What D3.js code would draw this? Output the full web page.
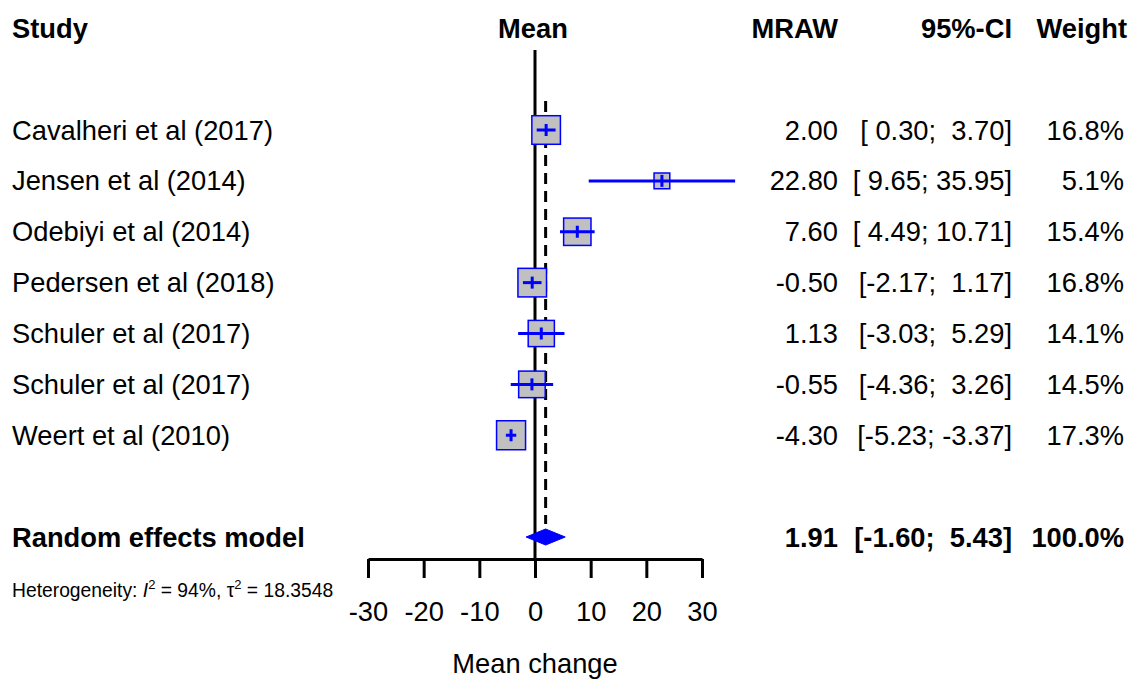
<!DOCTYPE html>
<html>
<head>
<meta charset="utf-8">
<script src="https://cdn.jsdelivr.net/npm/d3@7"></script>
<style>
  body { margin: 0; background: #fff; }
  svg { display: block; }
  text { font-family: "Liberation Sans", Arial, sans-serif; fill: #000; }
</style>
</head>
<body>
<div id="forest"></div>
<script>
// study data
var studies = ["Cavalheri et al (2017)", "Jensen et al (2014)", "Odebiyi et al (2014)",
    "Pedersen et al (2018)", "Schuler et al (2017)", "Schuler et al (2017)", "Weert et al (2010)"];
var means = [2.00, 22.80, 7.60, -0.50, 1.13, -0.55, -4.30];
var lower = [0.30, 9.65, 4.49, -2.17, -3.03, -4.36, -5.23];
var upper = [3.70, 35.95, 10.71, 1.17, 5.29, 3.26, -3.37];
var weights = [16.8, 5.1, 15.4, 16.8, 14.1, 14.5, 17.3];

// pooled estimate
var pooled = {mean: 1.91, lower: -1.60, upper: 5.43, weight: 100.0};
var heterogeneity = {i2: "94%", tau2: "18.3548"};

var xTicks = [-30, -20, -10, 0, 10, 20, 30];

var W = 1134, H = 679;

var svg = d3.select("#forest")
    .append("svg")
    .attr("width", W)
    .attr("height", H);

// plain hyphen for negatives, like R prints them
var loc = d3.formatLocale({decimal: ".", thousands: ",", grouping: [3], currency: ["", ""], minus: "-"});

// x scale for the effect
var x = d3.scaleLinear()
    .domain([-30, 30])
    .range([368, 702]);

// row positions: -2 header, 0..6 studies, 8 pooled
var y = d3.scaleLinear()
    .domain([0, 8])
    .range([130, 537]);

// square side ~ sqrt(weight)
var size = d3.scaleSqrt()
    .domain([0, d3.max(weights)])
    .range([0, 29]);

var fmt2 = loc.format(".2f");
var fmtW = function (w) { return loc.format(".1f")(w) + "%"; };
function pad(s, n) { while (s.length < n) s = " " + s; return s; }
function ciText(lo, up) {
    return "[" + pad(fmt2(lo), 5) + "; " + pad(fmt2(up), 5) + "]";
}

var FS = 27.3;

// header
var head = svg.append("g").style("font-weight", "bold").style("font-size", FS + "px");
head.append("text").attr("x", 12).attr("y", y(-2)).attr("dy", "0.35em").text("Study");
head.append("text").attr("x", x(0) - 2).attr("y", y(-2)).attr("dy", "0.35em")
    .attr("text-anchor", "middle").text("Mean");
head.append("text").attr("x", 838).attr("y", y(-2)).attr("dy", "0.35em")
    .attr("text-anchor", "end").text("MRAW");
head.append("text").attr("x", 1012).attr("y", y(-2)).attr("dy", "0.35em")
    .attr("text-anchor", "end").text("95%-CI");
head.append("text").attr("x", 1127).attr("y", y(-2)).attr("dy", "0.35em")
    .attr("text-anchor", "end").text("Weight");

// reference line at zero
svg.append("line")
    .attr("x1", x(0)).attr("x2", x(0))
    .attr("y1", 50).attr("y2", 559)
    .attr("stroke", "black")
    .attr("stroke-width", 3);

// dashed line at pooled estimate
svg.append("line")
    .attr("x1", x(pooled.mean)).attr("x2", x(pooled.mean))
    .attr("y1", 101).attr("y2", 524)
    .attr("stroke", "black")
    .attr("stroke-width", 3)
    .attr("stroke-dasharray", "11,7");

// study rows
var rows = svg.selectAll(".row")
    .data(studies)
    .enter()
    .append("g")
    .attr("class", "row");

rows.append("rect")
    .attr("x", function (d, i) { return x(means[i]) - size(weights[i]) / 2; })
    .attr("y", function (d, i) { return y(i) - size(weights[i]) / 2; })
    .attr("width", function (d, i) { return size(weights[i]); })
    .attr("height", function (d, i) { return size(weights[i]); })
    .attr("fill", "#c0c0c0")
    .attr("stroke", "blue")
    .attr("stroke-width", 1.5);

rows.append("line")
    .attr("x1", function (d, i) { return x(lower[i]); })
    .attr("x2", function (d, i) { return x(upper[i]); })
    .attr("y1", function (d, i) { return y(i); })
    .attr("y2", function (d, i) { return y(i); })
    .attr("stroke", "blue")
    .attr("stroke-width", 3);

rows.append("line")
    .attr("x1", function (d, i) { return x(means[i]); })
    .attr("x2", function (d, i) { return x(means[i]); })
    .attr("y1", function (d, i) { return y(i) - Math.min(6, size(weights[i]) / 2); })
    .attr("y2", function (d, i) { return y(i) + Math.min(6, size(weights[i]) / 2); })
    .attr("stroke", "blue")
    .attr("stroke-width", 3);

rows.append("text")
    .attr("x", 12)
    .attr("y", function (d, i) { return y(i); })
    .attr("dy", "0.35em")
    .style("font-size", FS + "px")
    .text(function (d) { return d; });

rows.append("text")
    .attr("x", 838)
    .attr("y", function (d, i) { return y(i); })
    .attr("dy", "0.35em")
    .attr("text-anchor", "end")
    .style("font-size", FS + "px")
    .text(function (d, i) { return fmt2(means[i]); });

rows.append("text")
    .attr("x", 1012)
    .attr("y", function (d, i) { return y(i); })
    .attr("dy", "0.35em")
    .attr("text-anchor", "end")
    .style("font-size", FS + "px")
    .style("white-space", "pre")
    .text(function (d, i) { return ciText(lower[i], upper[i]); });

rows.append("text")
    .attr("x", 1124)
    .attr("y", function (d, i) { return y(i); })
    .attr("dy", "0.35em")
    .attr("text-anchor", "end")
    .style("font-size", FS + "px")
    .text(function (d, i) { return fmtW(weights[i]); });

// pooled row
var yp = y(8);
svg.append("polygon")
    .attr("points", [
        [x(pooled.lower), yp], [x(pooled.mean), yp - 8],
        [x(pooled.upper), yp], [x(pooled.mean), yp + 8]
    ].join(" "))
    .attr("fill", "blue")
    .attr("stroke", "blue")
    .attr("stroke-width", 1);

var pg = svg.append("g").style("font-weight", "bold").style("font-size", FS + "px");
pg.append("text").attr("x", 12).attr("y", yp).attr("dy", "0.35em").text("Random effects model");
pg.append("text").attr("x", 838).attr("y", yp).attr("dy", "0.35em")
    .attr("text-anchor", "end").text(fmt2(pooled.mean));
pg.append("text").attr("x", 1012).attr("y", yp).attr("dy", "0.35em")
    .attr("text-anchor", "end").style("white-space", "pre")
    .text(ciText(pooled.lower, pooled.upper));
pg.append("text").attr("x", 1124).attr("y", yp).attr("dy", "0.35em")
    .attr("text-anchor", "end").text(fmtW(pooled.weight));

// heterogeneity note
var het = svg.append("text")
    .attr("x", 12)
    .attr("y", 597)
    .style("font-size", "19.3px");
het.append("tspan").text("Heterogeneity: ");
het.append("tspan").style("font-style", "italic").text("I");
het.append("tspan").attr("dy", -8).style("font-size", "13px").text("2");
het.append("tspan").attr("dy", 8).text(" = " + heterogeneity.i2 + ", \u03c4");
het.append("tspan").attr("dy", -8).style("font-size", "13px").text("2");
het.append("tspan").attr("dy", 8).text(" = " + heterogeneity.tau2);

// x axis
var xAxis = d3.axisBottom(x)
    .tickValues(xTicks)
    .tickFormat(loc.format("d"))
    .tickSize(19)
    .tickSizeOuter(0)
    .tickPadding(24);

var ax = svg.append("g")
    .attr("transform", "translate(0,559)")
    .call(xAxis);

ax.select(".domain").attr("stroke-width", 3);
ax.selectAll(".tick line").attr("stroke-width", 3);
ax.selectAll("text")
    .style("font-size", FS + "px")
    .style("font-family", "'Liberation Sans', Arial, sans-serif")
    .attr("fill", "#000");

svg.append("text")
    .attr("x", x(0))
    .attr("y", 673)
    .attr("text-anchor", "middle")
    .style("font-size", FS + "px")
    .text("Mean change");
</script>
</body>
</html>
